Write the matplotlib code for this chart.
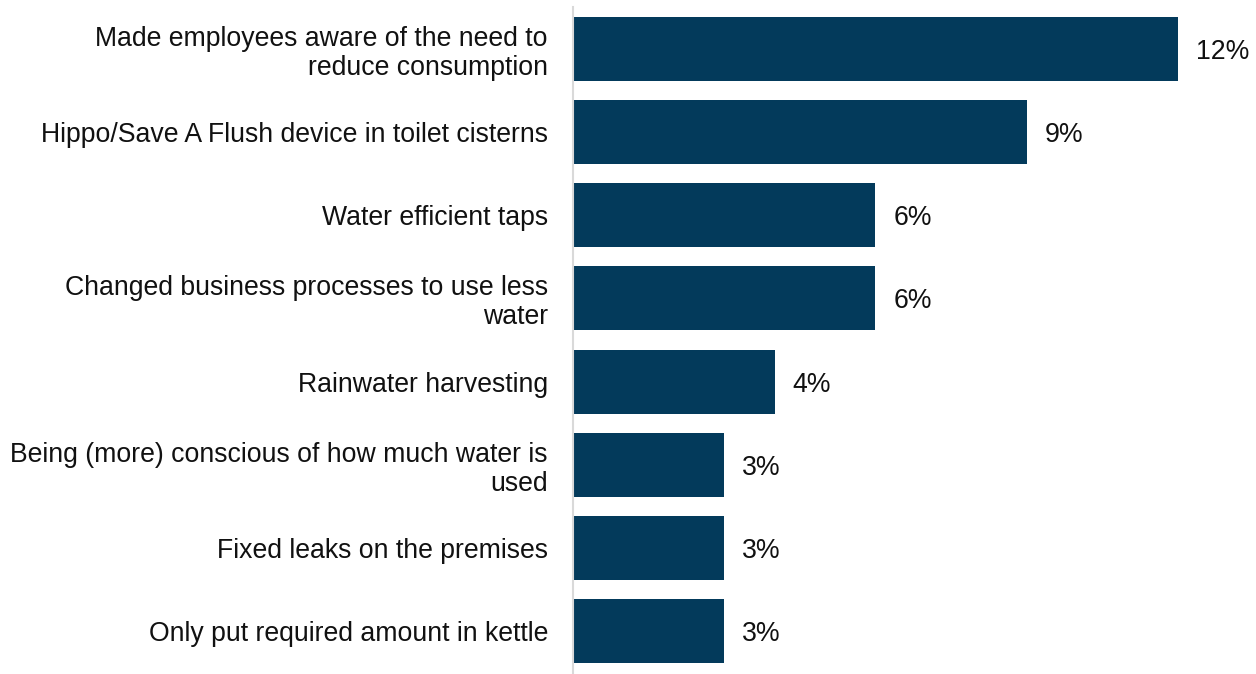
import matplotlib.pyplot as plt

plt.rcParams['font.family'] = ['Liberation Sans', 'DejaVu Sans']

labels = [
    'Made employees aware of the need to\nreduce consumption',
    'Hippo/Save A Flush device in toilet cisterns',
    'Water efficient taps',
    'Changed business processes to use less\nwater',
    'Rainwater harvesting',
    'Being (more) conscious of how much water is\nused',
    'Fixed leaks on the premises',
    'Only put required amount in kettle',
]
values = [12, 9, 6, 6, 4, 3, 3, 3]

fig = plt.figure(figsize=(12.56, 6.74), dpi=100)
ax = fig.add_axes([0.4562, 0.0015, 0.5438, 0.9881])

pos = range(len(values))
ax.barh(pos, values, height=0.766, color='#033a5b')
ax.set_ylim(7.5, -0.5)
ax.set_xlim(0, 13.55)

for p, v in zip(pos, values):
    ax.text(v + 0.36, p, f'{v}%', va='center_baseline', ha='left', fontsize=19.2, color='#111111')

ax.set_yticks(list(pos))
ax.set_yticklabels(labels, fontsize=19.2, color='#111111', linespacing=1.15)
ax.tick_params(axis='y', length=0, pad=18)
ax.set_xticks([])
for s in ['top', 'right', 'bottom']:
    ax.spines[s].set_visible(False)
ax.spines['left'].set_color('#d9d9d9')
ax.spines['left'].set_linewidth(1.5)

fig.savefig('out.png', dpi=100)
